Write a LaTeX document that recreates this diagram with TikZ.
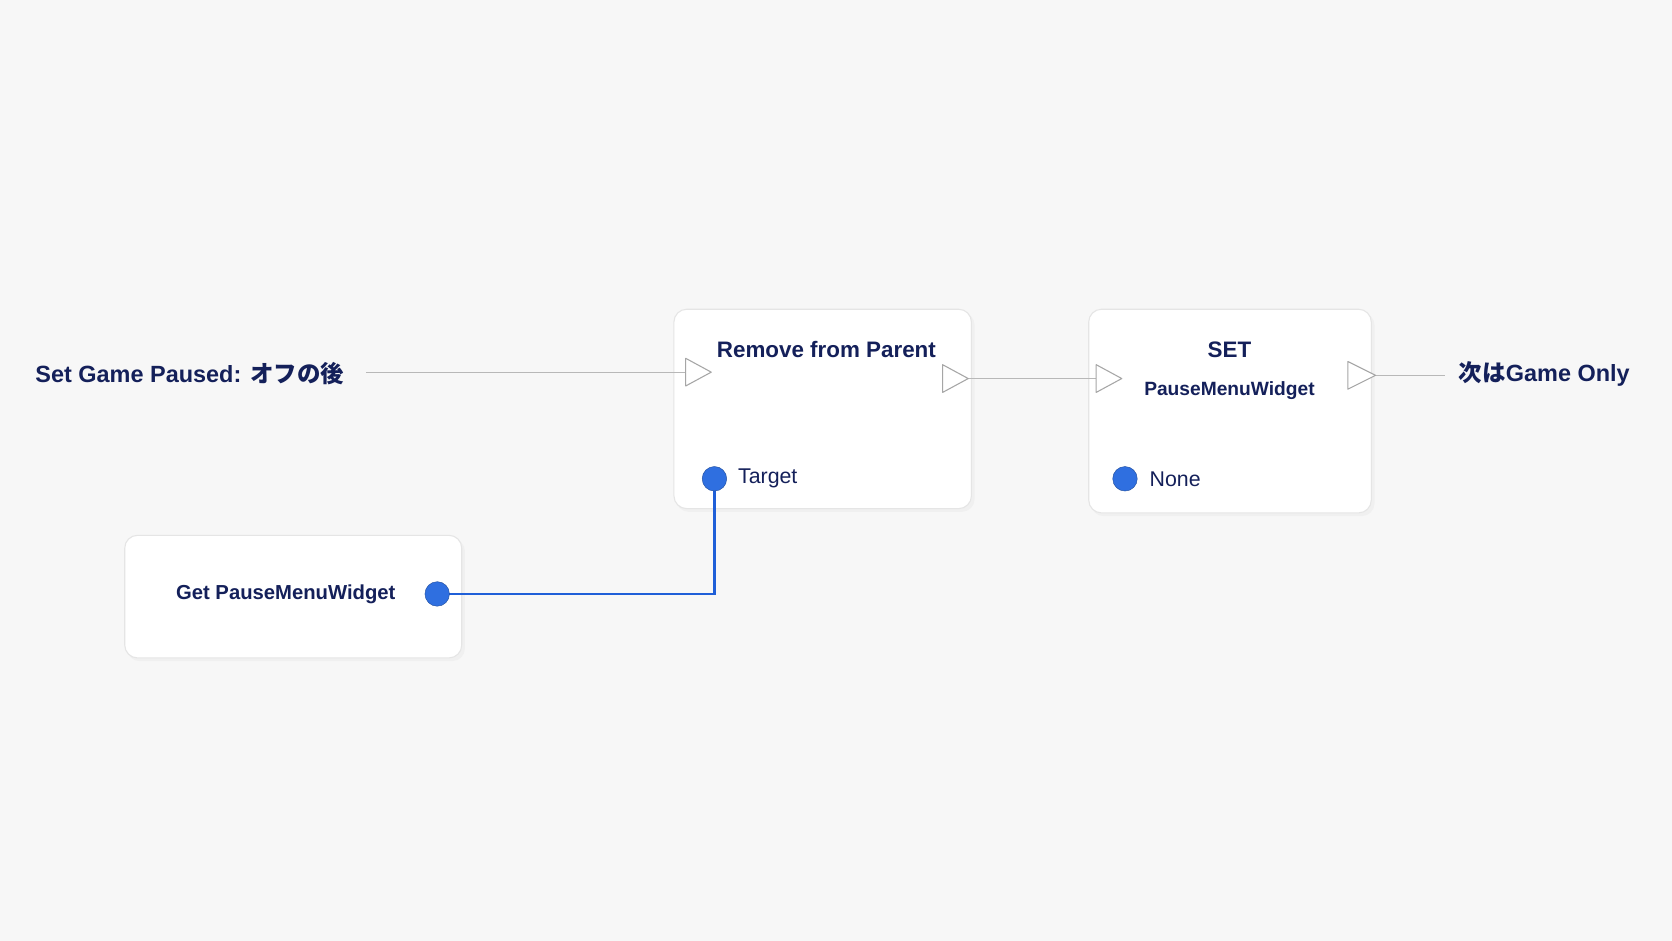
\documentclass[tikz,border=0pt]{standalone}
\usepackage{fontspec}
\setmainfont{Liberation Sans}
\newfontfamily\cjk{Noto Sans CJK JP}
\definecolor{pinblue}{HTML}{2F6FE0}
\definecolor{wireblue}{HTML}{1F5FD8}
\definecolor{navy}{HTML}{14205A}
\begin{document}
\begin{tikzpicture}[x=1pt,y=-1pt,
  box/.style={draw=black!10,fill=white,rounded corners=12pt,line width=1pt},
  tri/.style={draw=black!35,fill=white,line width=1pt,line join=round},
  wire/.style={draw=black!28,line width=1.2pt},
  pin/.style={circle,fill=pinblue,draw=pinblue!70!black,minimum size=23pt,inner sep=0pt},
  txt/.style={text=navy,inner sep=0pt}]
\useasboundingbox[fill=black!3] (0,0) rectangle (1568,882);
\fill[black!6,rounded corners=12pt] (634,293) rectangle (914,480);
\fill[black!6,rounded corners=12pt] (1023,293) rectangle (1289,484);
\fill[black!6,rounded corners=12pt] (119,505) rectangle (436,620);
\path[box] (632,290) rectangle (911,477);
\path[box] (1021,290) rectangle (1286,481);
\path[box] (117,502) rectangle (433,617);
\node[txt,font=\bfseries\fontsize{21}{25}\selectfont] (rt) at (775,328) {Remove from Parent};
\node[txt,font=\bfseries\fontsize{21}{25}\selectfont] (st) at (1153,328) {SET};
\node[txt,font=\bfseries\fontsize{18}{22}\selectfont] (sw) at (1153,366) {PauseMenuWidget};
\node[txt,font=\bfseries\fontsize{19}{23}\selectfont] (gt) at (268,557) {Get PauseMenuWidget};
\node[txt,anchor=west,font=\fontsize{20}{24}\selectfont] (tg) at (692,449) {Target};
\node[txt,anchor=west,font=\fontsize{20}{24}\selectfont] (nn) at (1078,449) {None};
\node[txt,anchor=west,font=\bfseries\fontsize{22}{26}\selectfont] (l) at (33,350) {Set Game Paused: {\cjk オフの後}};
\node[txt,anchor=west,font=\bfseries\fontsize{22}{26}\selectfont] (r) at (1368,351) {{\cjk 次は}Game Only};
\coordinate (a1) at (343,349); \coordinate (a2) at (643,349);
\coordinate (b1) at (908,355); \coordinate (b2) at (1028,355);
\coordinate (c1) at (1290,352); \coordinate (c2) at (1355,352);
\draw[wire] (a1) -- (a2);
\draw[wire] (b1) -- (b2);
\draw[wire] (c1) -- (c2);
\draw[tri] (643,336) -- (667,349) -- (643,362) -- cycle;
\draw[tri] (884,342) -- (908,355) -- (884,368) -- cycle;
\draw[tri] (1028,342) -- (1052,355) -- (1028,368) -- cycle;
\draw[tri] (1264,339) -- (1290,352) -- (1264,365) -- cycle;
\coordinate (w1) at (670,449); \coordinate (w2) at (410,557);
\draw[wireblue,line width=2pt] (w1) |- (w2);
\node[pin] (p1) at (670,449) {};
\node[pin] (p2) at (1055,449) {};
\node[pin] (p3) at (410,557) {};
\end{tikzpicture}
\end{document}
